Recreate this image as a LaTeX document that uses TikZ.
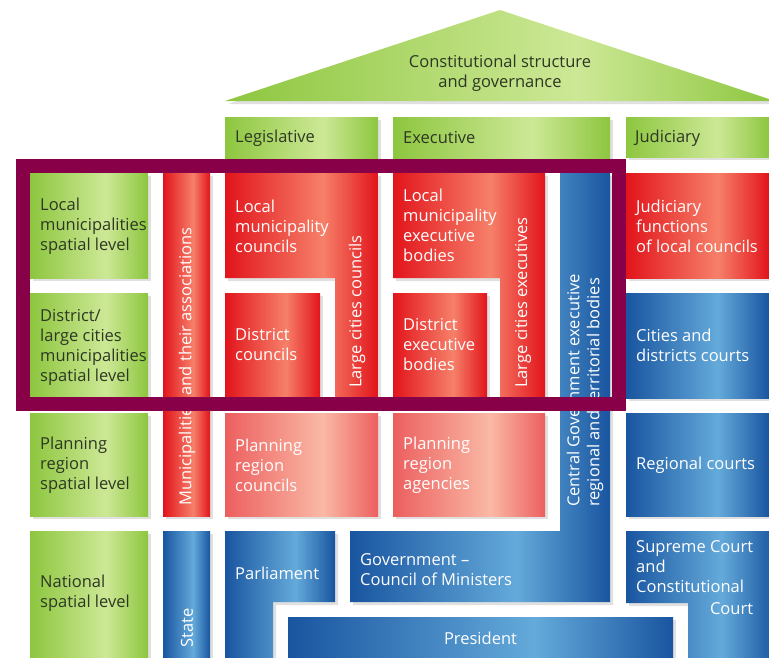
\documentclass[tikz,border=0pt]{standalone}
\usepackage{fontspec}
\setmainfont{Open Sans}
\usetikzlibrary{calc}
\definecolor{green1}{RGB}{141,198,63}
\definecolor{green2}{RGB}{205,232,150}
\definecolor{red1}{RGB}{226,20,27}
\definecolor{red2}{RGB}{246,128,105}
\definecolor{blue1}{RGB}{25,85,160}
\definecolor{blue2}{RGB}{100,170,218}
\definecolor{salm1}{RGB}{236,95,95}
\definecolor{salm2}{RGB}{250,185,165}
\definecolor{purp}{RGB}{135,0,72}
\definecolor{txtdark}{RGB}{45,55,35}
\pgfdeclarehorizontalshading{greensh}{100bp}{color(0bp)=(green1); color(25bp)=(green1); color(57bp)=(green2); color(75bp)=(green1); color(100bp)=(green1)}
\pgfdeclarehorizontalshading{redsh}{100bp}{color(0bp)=(red1); color(25bp)=(red1); color(57bp)=(red2); color(75bp)=(red1); color(100bp)=(red1)}
\pgfdeclarehorizontalshading{bluesh}{100bp}{color(0bp)=(blue1); color(25bp)=(blue1); color(57bp)=(blue2); color(75bp)=(blue1); color(100bp)=(blue1)}
\pgfdeclarehorizontalshading{salmsh}{100bp}{color(0bp)=(salm1); color(25bp)=(salm1); color(57bp)=(salm2); color(75bp)=(salm1); color(100bp)=(salm1)}
\tikzset{
  shad/.style={preaction={fill=black!12, transform canvas={shift={(3,3)}}}},
  gbox/.style={shad, shading=greensh},
  rbox/.style={shad, shading=redsh},
  bbox/.style={shad, shading=bluesh},
  sbox/.style={shad, shading=salmsh},
  lbl/.style={inner sep=0pt, anchor=west, align=left, font=\fontsize{16.5}{20}\selectfont},
  dk/.style={lbl, text=txtdark},
  wt/.style={lbl, text=white},
}
\begin{document}
\begin{tikzpicture}[x=1pt,y=-1pt]
\useasboundingbox (0,0) rectangle (769,657);
% roof and headers
\shade[gbox] (225,101) -- (500,10) -- (775,101) -- cycle;
\shade[gbox] (225,117) rectangle (378,165);
\shade[gbox] (393,117) rectangle (610,165);
\shade[gbox] (626,117) rectangle (769,157);
% row labels
\shade[gbox] (30,173) rectangle (148,278);
\shade[gbox] (30,293) rectangle (148,398);
\shade[gbox] (30,413) rectangle (148,516);
\shade[gbox] (30,531) rectangle (148,670);
% municipalities / state columns
\shade[rbox] (163,173) rectangle (210,516);
\shade[bbox] (163,531) rectangle (210,670);
% legislative
\shade[rbox] (225,173) -- (378,173) -- (378,398) -- (335,398) -- (335,278) -- (225,278) -- cycle;
\shade[rbox] (225,293) rectangle (320,398);
\shade[sbox] (225,413) rectangle (378,516);
% executive
\shade[rbox] (393,173) -- (545,173) -- (545,398) -- (500,398) -- (500,278) -- (393,278) -- cycle;
\shade[rbox] (393,293) rectangle (487,398);
\shade[sbox] (393,413) rectangle (545,516);
% central government + government
\shade[bbox] (350,531) -- (560,531) -- (560,173) -- (610,173) -- (610,602) -- (350,602) -- cycle;
% parliament
\shade[bbox] (225,531) -- (335,531) -- (335,602) -- (273,602) -- (273,670) -- (225,670) -- cycle;
% president
\shade[bbox] (288,617) rectangle (673,670);
% judiciary
\shade[rbox] (626,173) rectangle (769,278);
\shade[bbox] (626,293) rectangle (769,398);
\shade[bbox] (626,413) rectangle (769,516);
\shade[bbox] (626,531) -- (775,531) -- (775,670) -- (688,670) -- (688,603) -- (626,603) -- cycle;
% texts
\node[dk, anchor=center, align=center] (roof) at (500,73) {Constitutional structure\\and governance};
\node[dk] (leg) at (235,138) {Legislative};
\node[dk] (exe) at (403,138) {Executive};
\node[dk] (jud) at (635,138) {Judiciary};
\node[dk] (r1) at (40,226) {Local\\municipalities\\spatial level};
\node[dk] (r2) at (40,347) {District/\\large cities\\municipalities\\spatial level};
\node[dk] (r3) at (40,465) {Planning\\region\\spatial level};
\node[dk] (r4) at (40,593) {National\\spatial level};
\node[wt, rotate=90] (muni) at (187,506) {Municipalities and their associations};
\node[wt, rotate=90] (state) at (187,648) {State};
\node[wt] (lmc) at (235,226) {Local\\municipality\\councils};
\node[wt, rotate=90] (lcc) at (357,388) {Large cities councils};
\node[wt] (dc) at (235,345) {District\\councils};
\node[wt] (prc) at (235,465) {Planning\\region\\councils};
\node[wt] (lme) at (403,225) {Local\\municipality\\executive\\bodies};
\node[wt, rotate=90] (lce) at (523,388) {Large cities executives};
\node[wt] (deb) at (403,345) {District\\executive\\bodies};
\node[wt] (pra) at (403,465) {Planning\\region\\agencies};
\node[wt, rotate=90] (cg) at (585,507) {Central Government executive\\regional and territorial bodies};
\node[wt] (jfl) at (636,226) {Judiciary\\functions\\of local councils};
\node[wt] (cdc) at (636,345) {Cities and\\districts courts};
\node[wt] (rc) at (636,465) {Regional courts};
\node[wt] (sc) at (636,567) {Supreme Court\\and\\Constitutional};
\node[wt, anchor=base east] (scc) at ($(sc.south east)+(0,21)$) {Court};
\node[wt] (parl) at (235,573) {Parliament};
\node[wt] (gov) at (360,570) {Government –\\Council of Ministers};
\node[wt, anchor=center] (pres) at (480.5,638) {President};
% purple frame
\draw[purp, line width=14pt] (23,166) rectangle (619,404);
\end{tikzpicture}
\end{document}
